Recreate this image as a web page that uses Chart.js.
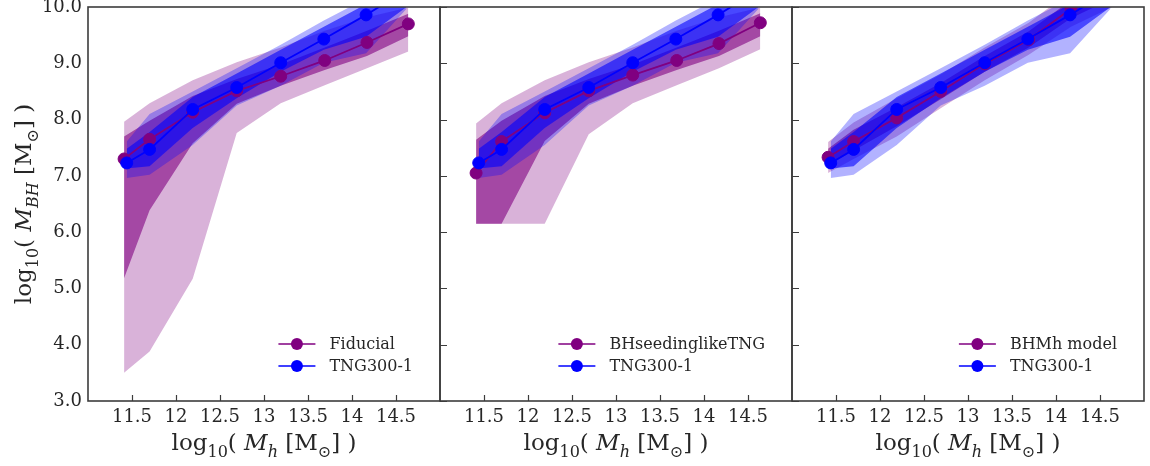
<!DOCTYPE html>
<html>
<head>
<meta charset="utf-8">
<script src="https://cdn.jsdelivr.net/npm/chart.js@4.4.0/dist/chart.umd.min.js"></script>
<style>
  html, body { margin: 0; padding: 0; background: #ffffff; }
  #wrap { position: relative; width: 1150px; height: 466px; overflow: hidden; background: #ffffff; }
  canvas { position: absolute; top: 0; }
</style>
</head>
<body>
<div id="wrap">
  <canvas id="c1" width="450" height="466" style="left:0px"></canvas>
  <canvas id="c2" width="372" height="466" style="left:430px"></canvas>
  <canvas id="c3" width="372" height="466" style="left:782px"></canvas>
</div>
<script>
// ---- halo-mass bin centres, log10(Mh / Msun) ----
const xModel = [11.41, 11.70, 12.19, 12.69, 13.19, 13.69, 14.17, 14.64];
const xTNG   = [11.44, 11.70, 12.19, 12.69, 13.19, 13.68, 14.16, 14.62];

// ---- TNG300-1 reference: median and percentile envelopes of log10(MBH) ----
const tngMedian  = [7.23, 7.47, 8.18, 8.57, 9.01, 9.43, 9.86, 10.30];
const tngInnerLo = [7.13, 7.17, 7.85, 8.38, 8.85, 9.24, 9.47, 10.00];
const tngInnerHi = [7.48, 7.78, 8.40, 8.82, 9.24, 9.65, 10.05, 10.50];
const tngOuterLo = [6.96, 7.02, 7.55, 8.25, 8.60, 9.01, 9.18, 9.97];
const tngOuterHi = [7.61, 8.10, 8.50, 8.91, 9.33, 9.76, 10.15, 10.70];

// ---- Fiducial model ----
const fidMedian  = [7.30, 7.65, 8.13, 8.51, 8.77, 9.05, 9.37, 9.70];
const fidInnerLo = [5.18, 6.39, 7.58, 8.28, 8.60, 8.88, 9.13, 9.48];
const fidInnerHi = [7.70, 7.98, 8.42, 8.72, 8.98, 9.28, 9.58, 9.88];
const fidOuterLo = [3.50, 3.88, 5.17, 7.76, 8.29, 8.61, 8.91, 9.21];
const fidOuterHi = [7.96, 8.29, 8.70, 9.02, 9.28, 9.58, 9.82, 9.99];

// ---- BHseedinglikeTNG model ----
const seedMedian  = [7.05, 7.61, 8.12, 8.51, 8.79, 9.05, 9.35, 9.72];
const seedInnerLo = [6.15, 6.15, 7.62, 8.28, 8.60, 8.88, 9.13, 9.48];
const seedInnerHi = [7.64, 7.98, 8.42, 8.72, 8.98, 9.28, 9.58, 9.89];
const seedOuterLo = [6.15, 6.15, 6.15, 7.74, 8.29, 8.61, 8.91, 9.25];
const seedOuterHi = [7.93, 8.29, 8.70, 9.02, 9.28, 9.58, 9.82, 9.99];

// ---- BHMh model ----
const bhmhMedian  = [7.33, 7.61, 8.03, 8.50, 8.99, 9.42, 9.97, 10.35];
const bhmhInnerLo = [7.18, 7.45, 7.88, 8.36, 8.85, 9.28, 9.80, 10.15];
const bhmhInnerHi = [7.48, 7.82, 8.22, 8.65, 9.13, 9.57, 10.12, 10.50];
const bhmhOuterLo = [7.05, 7.30, 7.70, 8.20, 8.70, 9.15, 9.65, 10.00];
const bhmhOuterHi = [7.60, 7.95, 8.38, 8.80, 9.28, 9.72, 10.28, 10.70];

// ---- axis ticks ----
const xTickValues = [11.5, 12, 12.5, 13, 13.5, 14, 14.5];
const yTickValues = [3, 4, 5, 6, 7, 8, 9, 10];

// ---- legend labels ----
const modelLabels = ['Fiducial', 'BHseedinglikeTNG', 'BHMh model'];
const tngLabel = 'TNG300-1';

const PURPLE = 'rgb(128,0,128)';
const BLUE = 'rgb(0,0,255)';
const AXIS = '#3c3c3c';
const TEXT = '#262626';
const SERIF = '"DejaVu Serif", "Liberation Serif", serif';

function pts(xs, ys) { return xs.map((x, i) => ({ x: x, y: ys[i] })); }

// A shaded band: upper edge fills down to the lower edge that follows it.
function band(xs, lo, hi, rgb, alpha) {
  return [
    { data: pts(xs, hi), fill: '+1', backgroundColor: 'rgba(' + rgb + ',' + alpha + ')',
      borderColor: 'rgba(0,0,0,0)', borderWidth: 0, pointRadius: 0, clip: 0 },
    { data: pts(xs, lo), fill: false, borderColor: 'rgba(0,0,0,0)', borderWidth: 0,
      pointRadius: 0, clip: 0 }
  ];
}

function medianLine(xs, ys, color) {
  return { data: pts(xs, ys), fill: false, borderColor: color, borderWidth: 1.8,
    pointRadius: 6, pointHoverRadius: 6, pointBackgroundColor: color,
    pointBorderColor: color, pointBorderWidth: 1, clip: 0 };
}

// draw a run of [text, style] pieces: style n = upright, i = italic, s = subscript, si = italic subscript
function drawRich(ctx, parts, cx, baseY, size) {
  const sub = Math.round(size * 0.68);
  const fontFor = st => (st === 'i' ? 'italic ' : st === 'si' ? 'italic ' : '') +
    ((st === 's' || st === 'si') ? sub : size) + 'px ' + SERIF;
  let total = 0;
  parts.forEach(p => { ctx.font = fontFor(p[1]); total += ctx.measureText(p[0]).width; });
  let x = cx - total / 2;
  ctx.textAlign = 'left';
  ctx.textBaseline = 'alphabetic';
  parts.forEach(p => {
    ctx.font = fontFor(p[1]);
    const dy = (p[1] === 's' || p[1] === 'si') ? size * 0.3 : 0;
    ctx.fillText(p[0], x, baseY + dy);
    x += ctx.measureText(p[0]).width;
  });
}

const xTitle = [['log', 'n'], ['10', 's'], ['( ', 'n'], ['M', 'i'], ['h', 'si'], [' [M', 'n'], ['\u2299', 's'], ['] )', 'n']];
const yTitle = [['log', 'n'], ['10', 's'], ['( ', 'n'], ['M', 'i'], ['BH', 'si'], [' [M', 'n'], ['\u2299', 's'], ['] )', 'n']];

const panelDecor = {
  id: 'panelDecor',
  afterDraw(chart, args, opts) {
    const ctx = chart.ctx;
    const a = chart.chartArea;
    const xs = chart.scales.x, ys = chart.scales.y;
    ctx.save();
    // inward tick marks along the bottom
    ctx.strokeStyle = AXIS;
    ctx.lineWidth = 1.2;
    ctx.beginPath();
    xTickValues.forEach(v => {
      const px = Math.round(xs.getPixelForValue(v)) + 0.5;
      ctx.moveTo(px, a.bottom); ctx.lineTo(px, a.bottom - 6);
    });
    if (opts.leftTicks) {
      yTickValues.forEach(v => {
        const py = Math.round(ys.getPixelForValue(v)) + 0.5;
        ctx.moveTo(a.left, py); ctx.lineTo(a.left + 7, py);
      });
    }
    ctx.stroke();
    // frame
    ctx.lineWidth = 1.6;
    ctx.strokeRect(a.left, a.top, a.right - a.left, a.bottom - a.top);

    // axis titles
    ctx.fillStyle = TEXT;
    drawRich(ctx, xTitle, (a.left + a.right) / 2, 450, 23);
    if (opts.yTitle) {
      ctx.save();
      ctx.translate(31, (a.top + a.bottom) / 2);
      ctx.rotate(-Math.PI / 2);
      drawRich(ctx, yTitle, 0, 0, 23);
      ctx.restore();
    }

    // legend, lower right
    const entries = [[opts.label, PURPLE], [tngLabel, BLUE]];
    ctx.font = '16px ' + SERIF;
    const wMax = Math.max.apply(null, entries.map(e => ctx.measureText(e[0]).width));
    const tx = a.right - 27 - wMax;
    const rows = [344, 366];
    entries.forEach((e, i) => {
      const y = rows[i];
      ctx.strokeStyle = e[1];
      ctx.lineWidth = 1.6;
      ctx.beginPath(); ctx.moveTo(tx - 51, y); ctx.lineTo(tx - 14, y); ctx.stroke();
      ctx.fillStyle = e[1];
      ctx.beginPath(); ctx.arc(tx - 32.5, y, 6, 0, Math.PI * 2); ctx.fill();
      ctx.fillStyle = TEXT;
      ctx.font = '16px ' + SERIF;
      ctx.textAlign = 'left';
      ctx.textBaseline = 'middle';
      ctx.fillText(e[0], tx, y + 1);
    });
    ctx.restore();
  }
};

function makePanel(id, model, label, first) {
  const datasets = [
    medianLine(xTNG, tngMedian, BLUE),
    medianLine(xModel, model.median, PURPLE)
  ]
    .concat(band(xTNG, tngInnerLo, tngInnerHi, '0,0,255', 0.6))
    .concat(band(xTNG, tngOuterLo, tngOuterHi, '0,0,255', 0.3))
    .concat(band(xModel, model.innerLo, model.innerHi, '128,0,128', 0.6))
    .concat(band(xModel, model.outerLo, model.outerHi, '128,0,128', 0.3));

  const yScale = {
    type: 'linear', min: 3, max: 10, display: first,
    grid: { display: false, drawTicks: false }, border: { display: false },
    ticks: { font: { family: SERIF, size: 18 }, color: TEXT, padding: 6,
      callback: v => Number(v).toFixed(1) },
    afterBuildTicks: s => { s.ticks = yTickValues.map(v => ({ value: v })); },
    afterFit: s => {
      if (first) s.width = 88;
      s.paddingTop = 0; s.paddingBottom = 0;
    }
  };

  return new Chart(document.getElementById(id), {
    type: 'line',
    data: { datasets: datasets },
    plugins: [panelDecor],
    options: {
      responsive: false,
      devicePixelRatio: 1,
      animation: false,
      events: [],
      layout: { padding: { left: first ? 0 : 10, right: 10, top: 7, bottom: 0 } },
      elements: { line: { tension: 0 } },
      scales: {
        x: {
          type: 'linear', min: 11, max: 15,
          grid: { display: false, drawTicks: false }, border: { display: false },
          ticks: { font: { family: SERIF, size: 18 }, color: TEXT, padding: 6,
            callback: v => String(v) },
          afterBuildTicks: s => { s.ticks = xTickValues.map(v => ({ value: v })); },
          afterFit: s => { s.height = 65; s.paddingLeft = 0; s.paddingRight = 0; }
        },
        y: yScale
      },
      plugins: {
        legend: { display: false },
        tooltip: { enabled: false },
        filler: { drawTime: 'beforeDatasetsDraw', propagate: false },
        panelDecor: { label: label, yTitle: first, leftTicks: !first }
      }
    }
  });
}

makePanel('c1', { median: fidMedian, innerLo: fidInnerLo, innerHi: fidInnerHi,
  outerLo: fidOuterLo, outerHi: fidOuterHi }, modelLabels[0], true);
makePanel('c2', { median: seedMedian, innerLo: seedInnerLo, innerHi: seedInnerHi,
  outerLo: seedOuterLo, outerHi: seedOuterHi }, modelLabels[1], false);
makePanel('c3', { median: bhmhMedian, innerLo: bhmhInnerLo, innerHi: bhmhInnerHi,
  outerLo: bhmhOuterLo, outerHi: bhmhOuterHi }, modelLabels[2], false);
</script>
</body>
</html>
